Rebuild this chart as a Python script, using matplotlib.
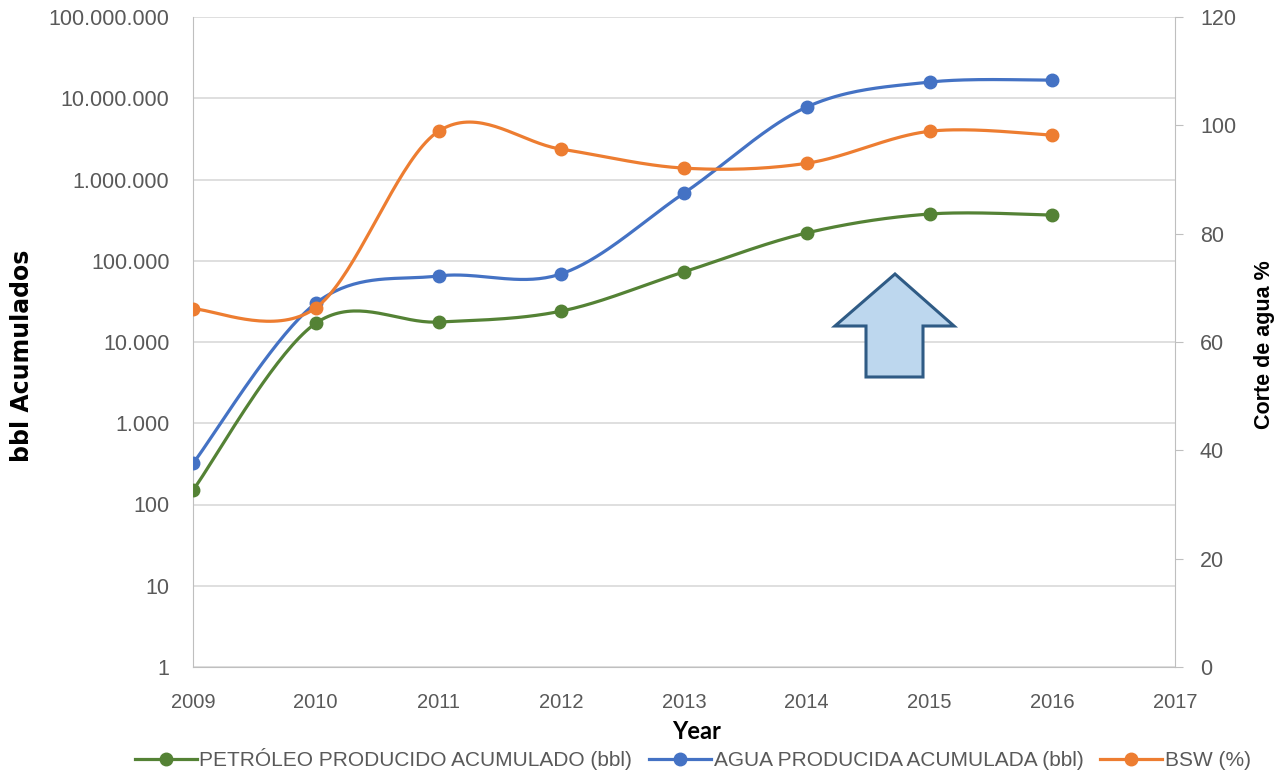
import numpy as np
import matplotlib
matplotlib.use("Agg")
import matplotlib.pyplot as plt
from matplotlib.ticker import FixedLocator, FuncFormatter
from matplotlib.patches import Polygon
from matplotlib.lines import Line2D

years = [2009, 2010, 2011, 2012, 2013, 2014, 2015, 2016]
petroleo = [150, 17000, 17600, 24000, 73000, 220000, 376000, 365000]
agua = [320, 30000, 65000, 69000, 680000, 7800000, 15800000, 16700000]
bsw = [66.1, 66.3, 98.9, 95.6, 92.1, 93.0, 98.9, 98.2]

left_ticks = [1, 10, 100, 1000, 10000, 100000, 1000000, 10000000, 100000000]
right_ticks = [0, 20, 40, 60, 80, 100, 120]
x_ticks = [2009, 2010, 2011, 2012, 2013, 2014, 2015, 2016, 2017]

labels = ["PETRÓLEO PRODUCIDO ACUMULADO (bbl)",
          "AGUA PRODUCIDA ACUMULADA (bbl)",
          "BSW (%)"]
green = "#548235"
blue = "#4472C4"
orange = "#ED7D31"
gray = "#595959"

plain = ["Liberation Sans", "DejaVu Sans"]


def smooth(x, y, n=40):
    # catmull-rom like excel "smoothed line"
    x = np.asarray(x, float)
    y = np.asarray(y, float)
    px = np.concatenate([[x[0]], x, [x[-1]]])
    py = np.concatenate([[y[0]], y, [y[-1]]])
    xs, ys = [], []
    t = np.linspace(0, 1, n)
    for i in range(1, len(px) - 2):
        p0x, p1x, p2x, p3x = px[i - 1], px[i], px[i + 1], px[i + 2]
        p0y, p1y, p2y, p3y = py[i - 1], py[i], py[i + 1], py[i + 2]
        c1x = p1x + (p2x - p0x) / 6
        c1y = p1y + (p2y - p0y) / 6
        c2x = p2x - (p3x - p1x) / 6
        c2y = p2y - (p3y - p1y) / 6
        bx = (1 - t) ** 3 * p1x + 3 * (1 - t) ** 2 * t * c1x + 3 * (1 - t) * t ** 2 * c2x + t ** 3 * p2x
        by = (1 - t) ** 3 * p1y + 3 * (1 - t) ** 2 * t * c1y + 3 * (1 - t) * t ** 2 * c2y + t ** 3 * p2y
        xs.append(bx)
        ys.append(by)
    return np.concatenate(xs), np.concatenate(ys)


fig = plt.figure(figsize=(12.78, 7.78), dpi=100)
ax = fig.add_axes([193 / 1278, 1 - 667 / 778, (1175 - 193) / 1278, (667 - 17) / 778])
ax2 = ax.twinx()

ax.set_yscale("log")
ax.set_ylim(1, 1e8)
ax.set_xlim(2009, 2017)
ax2.set_ylim(0, 120)

for vals, col in [(petroleo, green), (agua, blue)]:
    sx, sy = smooth(years, np.log10(vals))
    ax.plot(sx, 10 ** sy, color=col, lw=2.3, zorder=3)
    ax.plot(years, vals, "o", color=col, ms=9, zorder=4)

sx, sy = smooth(years, bsw)
ax2.plot(sx, sy, color=orange, lw=2.3, zorder=3)
ax2.plot(years, bsw, "o", color=orange, ms=9, zorder=4)

ax.yaxis.set_major_locator(FixedLocator(left_ticks))
ax.yaxis.set_minor_locator(FixedLocator([]))
ax.yaxis.set_major_formatter(FuncFormatter(lambda v, p: "{:,.0f}".format(v).replace(",", ".")))
ax.set_xticks(x_ticks)
ax2.set_yticks(right_ticks)
ax.grid(axis="y", color="#d9d9d9", lw=1.2)
ax.set_axisbelow(True)

for a in (ax, ax2):
    for s in a.spines.values():
        s.set_visible(False)
ax.spines["left"].set_visible(True)
ax.spines["left"].set_color("#bfbfbf")
ax.spines["bottom"].set_visible(True)
ax.spines["bottom"].set_color("#bfbfbf")
ax2.spines["right"].set_visible(True)
ax2.spines["right"].set_color("#bfbfbf")

ax.tick_params(axis="y", length=0, pad=17, labelsize=15.5, labelcolor=gray)
ax.tick_params(axis="x", length=0, pad=19, labelsize=14.5, labelcolor=gray)
ax2.tick_params(axis="y", length=6, color="#bfbfbf", pad=12, labelsize=15.5, labelcolor=gray)
for lab in ax.get_xticklabels() + ax.get_yticklabels() + ax2.get_yticklabels():
    lab.set_family(plain)

ax.set_ylabel("bbl Acumulados", fontsize=17, fontweight="bold", family="DejaVu Sans")
ax.yaxis.set_label_coords((34 - 193) / 982, (667 - 356) / 650)
ax2.set_ylabel("Corte de agua %", fontsize=15.5, fontweight="bold", family=plain)
ax2.yaxis.set_label_coords((1254 - 193) / 982, (667 - 345) / 650)
ax.set_xlabel("Year", fontsize=17, fontweight="bold", family="Lato")
ax.xaxis.set_label_coords((697 - 193) / 982, -0.082)

# blue up arrow annotation
arrow = [(895, 274), (954, 326), (923, 326), (923, 377), (866, 377), (866, 326), (835, 326)]
arrow = [(x / 1278, 1 - y / 778) for x, y in arrow]
fig.patches.append(Polygon(arrow, closed=True, transform=fig.transFigure,
                           facecolor="#bdd7ee", edgecolor="#2f5b85", lw=2.2, zorder=5))

handles = [Line2D([], [], color=c, lw=2.3, marker="o", ms=9) for c in (green, blue, orange)]
leg = fig.legend(handles, labels, loc="lower center", bbox_to_anchor=(0.542, -0.014), ncol=3,
                 frameon=False, handlelength=3.0, handletextpad=0.1, columnspacing=0.8,
                 prop={"family": plain, "size": 15})
for t in leg.get_texts():
    t.set_color(gray)

fig.savefig("out.png", dpi=100)
